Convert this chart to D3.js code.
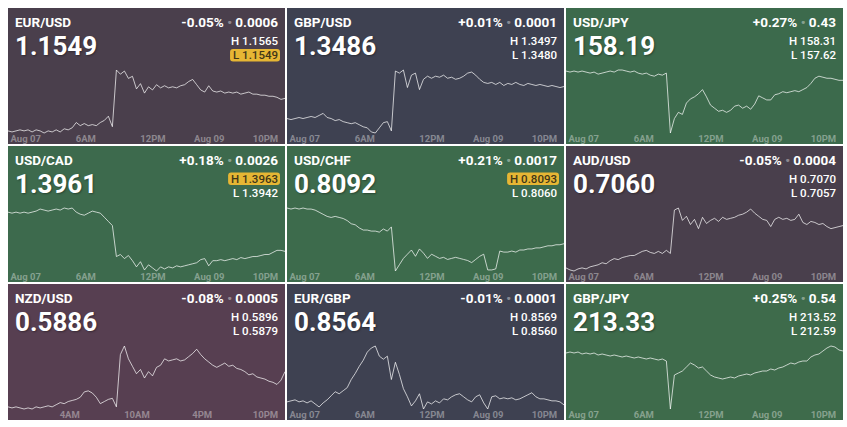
<!DOCTYPE html>
<html>
<head>
<meta charset="utf-8">
<script src="https://cdn.jsdelivr.net/npm/d3@7"></script>
<style>
  body { margin: 0; background: #fff; }
  svg { display: block; font-family: Roboto, "Open Sans", sans-serif; }
  .price { text-shadow: 1px 1px 2px rgba(0,0,0,0.35); }
</style>
</head>
<body>
<svg id="chart" width="847" height="427"></svg>
<script>
// Paires et cotations
const pairs = ["EUR/USD", "GBP/USD", "USD/JPY", "USD/CAD", "USD/CHF", "AUD/USD", "NZD/USD", "EUR/GBP", "GBP/JPY"];
const lastPrices = [1.1549, 1.3486, 158.19, 1.3961, 0.8092, 0.7060, 0.5886, 0.8564, 213.33];
const decimals = [4, 4, 2, 4, 4, 4, 4, 4, 2];
const changePct = [-0.05, 0.01, 0.27, 0.18, 0.21, -0.05, -0.08, -0.01, 0.25];
const changeAbs = [0.0006, 0.0001, 0.43, 0.0026, 0.0017, 0.0004, 0.0005, 0.0001, 0.54];
const highs = [1.1565, 1.3497, 158.31, 1.3963, 0.8093, 0.7070, 0.5896, 0.8569, 213.52];
const lows = [1.1549, 1.3480, 157.62, 1.3942, 0.8060, 0.7057, 0.5879, 0.8560, 212.59];
const highlighted = ["L", "", "", "H", "H", "", "", "", ""];

// Etiquettes de l'axe du temps (position = index du point)
const stdTickPos = [0, 19.25, 36, 50, 64];
const stdTickLabels = ["Aug 07", "6AM", "12PM", "Aug 09", "10PM"];
const nzdTickPos = [15.25, 32, 48.25, 64];
const nzdTickLabels = ["4AM", "10AM", "4PM", "10PM"];

// Séries de prix
const eurusd = [1.1518,1.1517,1.1518,1.1519,1.1518,1.1519,1.1517,1.1519,1.1518,1.1516,
  1.1518,1.1517,1.1519,1.1517,1.1520,1.1519,1.1521,1.1526,1.1523,1.1525,
  1.1523,1.1524,1.1523,1.1526,1.1528,1.1532,1.1522,1.1576,1.1572,1.1575,
  1.1568,1.1570,1.1558,1.1563,1.1554,1.1560,1.1557,1.1562,1.1559,1.1561,
  1.1559,1.1560,1.1559,1.1561,1.1562,1.1565,1.1567,1.1562,1.1557,1.1555,
  1.1561,1.1556,1.1555,1.1556,1.1554,1.1555,1.1554,1.1555,1.1553,1.1554,
  1.1555,1.1553,1.1553,1.1552,1.1552,1.1551,1.1551,1.1550,1.1548,1.1549];
const gbpusd = [1.3455,1.3454,1.3455,1.3456,1.3455,1.3456,1.3457,1.3456,1.3458,1.3460,
  1.3456,1.3455,1.3453,1.3454,1.3452,1.3451,1.3450,1.3451,1.3449,1.3447,
  1.3446,1.3442,1.3441,1.3446,1.3451,1.3452,1.3443,1.3501,1.3499,1.3502,
  1.3485,1.3497,1.3499,1.3483,1.3493,1.3496,1.3494,1.3496,1.3495,1.3497,
  1.3494,1.3495,1.3493,1.3494,1.3496,1.3499,1.3500,1.3497,1.3493,1.3490,
  1.3489,1.3490,1.3488,1.3490,1.3487,1.3489,1.3488,1.3490,1.3488,1.3487,
  1.3489,1.3488,1.3487,1.3488,1.3487,1.3486,1.3487,1.3486,1.3485,1.3486];
const usdjpy = [158.28,158.27,158.28,158.27,158.28,158.27,158.26,158.27,158.25,158.26,
  158.27,158.28,158.27,158.29,158.29,158.28,158.27,158.28,158.26,158.25,
  158.26,158.24,158.23,158.25,158.24,158.26,157.68,157.82,157.88,157.86,
  157.97,158.01,158.03,158.06,158.10,158.03,157.95,157.92,157.89,157.90,
  157.88,157.90,157.94,157.95,157.92,157.94,157.91,157.96,158.04,158.02,
  158.00,158.00,158.05,158.06,158.08,158.07,158.08,158.09,158.08,158.10,
  158.12,158.16,158.21,158.23,158.22,158.21,158.21,158.20,158.19,158.19];
const usdcad = [1.3999,1.3998,1.3999,1.3998,1.3999,1.3998,1.3999,1.4000,1.4002,1.4001,
  1.4000,1.4001,1.4002,1.4001,1.4003,1.4002,1.4003,1.3999,1.3997,1.3996,
  1.3998,1.4000,1.3999,1.3998,1.3994,1.3990,1.3986,1.3956,1.3958,1.3954,
  1.3957,1.3952,1.3946,1.3951,1.3943,1.3948,1.3945,1.3942,1.3946,1.3944,
  1.3946,1.3945,1.3947,1.3946,1.3947,1.3948,1.3949,1.3950,1.3953,1.3954,
  1.3947,1.3952,1.3952,1.3953,1.3952,1.3953,1.3954,1.3953,1.3955,1.3954,
  1.3955,1.3956,1.3956,1.3957,1.3958,1.3958,1.3960,1.3962,1.3962,1.3961];
const usdchf = [0.8126,0.8125,0.8126,0.8125,0.8126,0.8125,0.8125,0.8124,0.8122,0.8120,
  0.8118,0.8117,0.8118,0.8117,0.8116,0.8114,0.8111,0.8110,0.8107,0.8105,
  0.8105,0.8104,0.8104,0.8103,0.8106,0.8104,0.8108,0.8066,0.8072,0.8078,
  0.8082,0.8086,0.8080,0.8087,0.8083,0.8078,0.8082,0.8080,0.8078,0.8079,
  0.8077,0.8078,0.8079,0.8078,0.8077,0.8076,0.8074,0.8077,0.8080,0.8082,
  0.8067,0.8067,0.8068,0.8085,0.8084,0.8084,0.8085,0.8084,0.8086,0.8086,
  0.8087,0.8087,0.8088,0.8088,0.8089,0.8090,0.8090,0.8091,0.8091,0.8092];
const audusd = [0.7019,0.7017,0.7016,0.7018,0.7019,0.7018,0.7020,0.7021,0.7022,0.7024,
  0.7023,0.7026,0.7028,0.7027,0.7029,0.7030,0.7031,0.7031,0.7033,0.7035,
  0.7036,0.7034,0.7033,0.7035,0.7033,0.7036,0.7033,0.7075,0.7077,0.7065,
  0.7069,0.7061,0.7066,0.7057,0.7068,0.7062,0.7065,0.7067,0.7064,0.7068,
  0.7066,0.7067,0.7068,0.7070,0.7071,0.7073,0.7076,0.7072,0.7069,0.7066,
  0.7065,0.7059,0.7066,0.7068,0.7066,0.7067,0.7065,0.7066,0.7071,0.7063,
  0.7061,0.7064,0.7063,0.7061,0.7062,0.7059,0.7057,0.7058,0.7059,0.7060];
const nzdusd = [0.5853,0.5852,0.5853,0.5852,0.5851,0.5852,0.5851,0.5853,0.5852,0.5853,
  0.5854,0.5853,0.5855,0.5857,0.5856,0.5858,0.5859,0.5860,0.5862,0.5867,
  0.5868,0.5866,0.5862,0.5856,0.5858,0.5860,0.5861,0.5853,0.5902,0.5910,
  0.5898,0.5891,0.5884,0.5888,0.5880,0.5886,0.5882,0.5890,0.5892,0.5898,
  0.5896,0.5897,0.5898,0.5896,0.5897,0.5900,0.5903,0.5907,0.5902,0.5898,
  0.5895,0.5892,0.5890,0.5892,0.5894,0.5891,0.5892,0.5889,0.5888,0.5886,
  0.5883,0.5884,0.5881,0.5880,0.5879,0.5877,0.5876,0.5874,0.5878,0.5886];
const eurgbp = [0.8567,0.8568,0.8569,0.8567,0.8568,0.8566,0.8568,0.8565,0.8562,0.8566,
  0.8569,0.8573,0.8577,0.8575,0.8578,0.8581,0.8589,0.8595,0.8602,0.8608,
  0.8616,0.8620,0.8622,0.8612,0.8609,0.8612,0.8589,0.8606,0.8594,0.8580,
  0.8572,0.8563,0.8568,0.8575,0.8560,0.8567,0.8565,0.8568,0.8566,0.8570,
  0.8569,0.8572,0.8574,0.8575,0.8572,0.8569,0.8567,0.8572,0.8574,0.8566,
  0.8560,0.8572,0.8573,0.8570,0.8571,0.8570,0.8571,0.8569,0.8570,0.8572,
  0.8574,0.8576,0.8572,0.8570,0.8570,0.8569,0.8568,0.8568,0.8567,0.8564];
const gbpjpy = [213.31,213.32,213.31,213.32,213.30,213.31,213.30,213.31,213.29,213.30,
  213.29,213.28,213.29,213.28,213.27,213.28,213.27,213.26,213.27,213.26,
  213.25,213.26,213.25,213.24,213.25,213.23,212.75,213.09,213.11,213.13,
  213.17,213.21,213.19,213.16,213.17,213.13,213.09,213.07,213.06,213.05,
  213.06,213.07,213.06,213.08,213.09,213.10,213.09,213.11,213.12,213.13,
  213.13,213.15,213.14,213.16,213.17,213.19,213.21,213.20,213.22,213.23,
  213.23,213.27,213.29,213.30,213.33,213.36,213.38,213.37,213.34,213.33];
const series = [eurusd, gbpusd, usdjpy, usdcad, usdchf, audusd, nzdusd, eurgbp, gbpjpy];

// Couleurs des tuiles (baisse = mauve, stable = gris bleu, hausse = vert)
const panelColors = ["#4a3f4c", "#3e4151", "#3c6a4c", "#3d6a4d", "#3d6b4c", "#493f4c", "#573f51", "#3e4151", "#3e6b4b"];

const cellW = 277, cellH = 136, gap = 2, gridLeft = 8, gridTop = 8;
const svg = d3.select("#chart");

pairs.forEach((pair, i) => {
    const col = i % 3, row = Math.floor(i / 3);
    const g = svg.append("g")
        .attr("transform", `translate(${gridLeft + col * (cellW + gap)},${gridTop + row * (cellH + gap)})`);

    g.append("rect")
        .attr("width", cellW)
        .attr("height", cellH)
        .attr("fill", panelColors[i]);

    g.append("clipPath").attr("id", "clip" + i)
      .append("rect").attr("width", cellW).attr("height", cellH);

    const values = series[i];
    const xScale = d3.scaleLinear().domain([0, values.length - 1]).range([0, cellW]);
    const yScale = d3.scaleLinear().domain(d3.extent(values)).range([125, 62]);

    // Axe du temps
    const isNzd = pair === "NZD/USD";
    const tickPos = isNzd ? nzdTickPos : stdTickPos;
    const tickLabels = isNzd ? nzdTickLabels : stdTickLabels;
    const xAxis = d3.axisBottom(xScale)
        .tickValues(tickPos)
        .tickFormat((d, k) => tickLabels[k])
        .tickSize(0)
        .tickPadding(2);
    const xAxisG = g.append("g")
        .attr("transform", "translate(0,125)")
        .call(xAxis)
        .attr("font-family", "Roboto, sans-serif")
        .attr("font-size", 9.5);
    xAxisG.select(".domain").remove();
    xAxisG.selectAll("text")
        .attr("fill", "rgba(255,255,255,0.38)")
        .attr("font-weight", 700)
        .attr("text-anchor", d => d === 0 ? "start" : "middle")
        .attr("x", d => d === 0 ? 2 : 0);

    // Ligne
    g.append("path")
        .datum(values)
        .attr("clip-path", `url(#clip${i})`)
        .attr("fill", "none")
        .attr("stroke", "rgba(255,255,255,0.7)")
        .attr("stroke-width", 1)
        .attr("stroke-linejoin", "round")
        .attr("d", d3.line()
            .x((d, k) => xScale(k))
            .y(d => yScale(d)));

    // Titre et prix
    g.append("text")
        .attr("x", 7).attr("y", 19)
        .attr("fill", "#fff")
        .attr("font-size", 13.5)
        .attr("font-weight", 700)
        .text(pair);

    g.append("text")
        .attr("class", "price")
        .attr("x", 7).attr("y", 47)
        .attr("fill", "#fff")
        .attr("font-size", 26)
        .attr("font-weight", 700)
        .text(lastPrices[i].toFixed(decimals[i]));

    // Variation
    const chg = g.append("text")
        .attr("x", 270).attr("y", 19)
        .attr("text-anchor", "end")
        .attr("fill", "#fff")
        .attr("font-size", 13.5)
        .attr("font-weight", 700);
    chg.append("tspan").text((changePct[i] >= 0 ? "+" : "-") + Math.abs(changePct[i]).toFixed(2) + "%");
    chg.append("tspan").attr("fill", "rgba(255,255,255,0.4)").text(" \u2022 ");
    chg.append("tspan").text(changeAbs[i].toFixed(decimals[i]));

    // Haut / bas
    [["H", highs[i], 36.5], ["L", lows[i], 51]].forEach(([lab, val, yy]) => {
        const on = highlighted[i] === lab;
        const t = g.append("text")
            .attr("x", 270).attr("y", yy)
            .attr("text-anchor", "end")
            .attr("fill", on ? "#3f3618" : "#fff")
            .attr("font-size", 11.5)
            .attr("font-weight", 500)
            .text(lab + " " + val.toFixed(decimals[i]));
        if (on) {
            const bb = t.node().getBBox();
            g.insert("rect", () => t.node())
                .attr("x", bb.x - 3)
                .attr("y", bb.y + 1)
                .attr("width", bb.width + 5)
                .attr("height", bb.height - 1.5)
                .attr("rx", 3)
                .attr("fill", "#e6b634");
        }
    });
});
</script>
</body>
</html>
